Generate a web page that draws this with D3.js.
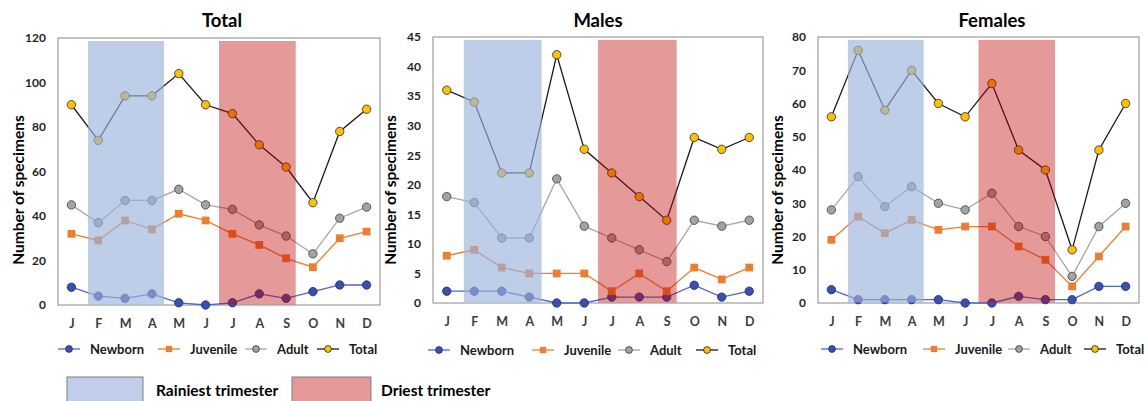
<!DOCTYPE html>
<html>
<head>
<meta charset="utf-8">
<script src="https://cdn.jsdelivr.net/npm/d3@7/dist/d3.min.js"></script>
<style>
  html, body { margin: 0; padding: 0; background: #fff; }
  svg { display: block; font-family: Lato, "Open Sans", sans-serif; }
</style>
</head>
<body>
<svg id="chart" width="1148" height="401"></svg>
<script>
// ---------- DATA ----------
const months = ["J","F","M","A","M","J","J","A","S","O","N","D"];
const seriesNames = ["Newborn","Juvenile","Adult","Total"];

const totalNewborn  = [8, 4, 3, 5, 1, 0, 1, 5, 3, 6, 9, 9];
const totalJuvenile = [32, 29, 38, 34, 41, 38, 32, 27, 21, 17, 30, 33];
const totalAdult    = [45, 37, 47, 47, 52, 45, 43, 36, 31, 23, 39, 44];
const totalTotal    = [90, 74, 94, 94, 104, 90, 86, 72, 62, 46, 78, 88];

const malesNewborn  = [2, 2, 2, 1, 0, 0, 1, 1, 1, 3, 1, 2];
const malesJuvenile = [8, 9, 6, 5, 5, 5, 2, 5, 2, 6, 4, 6];
const malesAdult    = [18, 17, 11, 11, 21, 13, 11, 9, 7, 14, 13, 14];
const malesTotal    = [36, 34, 22, 22, 42, 26, 22, 18, 14, 28, 26, 28];

const femalesNewborn  = [4, 1, 1, 1, 1, 0, 0, 2, 1, 1, 5, 5];
const femalesJuvenile = [19, 26, 21, 25, 22, 23, 23, 17, 13, 5, 14, 23];
const femalesAdult    = [28, 38, 29, 35, 30, 28, 33, 23, 20, 8, 23, 30];
const femalesTotal    = [56, 76, 58, 70, 60, 56, 66, 46, 40, 16, 46, 60];

const panelTitles = ["Total", "Males", "Females"];
const yMaxes = [120, 45, 80];
const yTickSteps = [20, 5, 10];
// trimester bands in month-index units (fractional)
const rainyBand = [0.62, 3.45];
const dryBand = [5.5, 8.36];
const bandLabels = ["Rainiest trimester", "Driest trimester"];

// ---------- STYLE / LAYOUT ----------
const styles = {
  Newborn:  { line: "#4f66cc", fill: "#3b4fb2", stroke: "#1e2a66", shape: "circle" },
  Juvenile: { line: "#ed7d31", fill: "#ed7d31", stroke: "none", shape: "square" },
  Adult:    { line: "#a6a6a6", fill: "#a3a3a3", stroke: "#3a3a3a", shape: "circle" },
  Total:    { line: "#1a1a1a", fill: "#ffc000", stroke: "#2a2a2a", shape: "circle" }
};

const layouts = [
  { x0: 58,  x1: 380,  yTop: 38, yBot: 305, titleX: 222, ylabX: 18,
    legY: 349, legLine: [58, 158, 245, 317] },
  { x0: 433, x1: 763,  yTop: 37, yBot: 303, titleX: 598, ylabX: 390,
    legY: 350, legLine: [428, 532, 618, 696] },
  { x0: 818, x1: 1139, yTop: 37, yBot: 303, titleX: 992, ylabX: 777,
    legY: 349, legLine: [821, 923, 1008, 1084] }
];

const panelData = [
  [totalNewborn, totalJuvenile, totalAdult, totalTotal],
  [malesNewborn, malesJuvenile, malesAdult, malesTotal],
  [femalesNewborn, femalesJuvenile, femalesAdult, femalesTotal]
];

const svg = d3.select("#chart");

function drawMarker(g, shape, cx, cy, st, r) {
  if (shape === "circle") {
    g.append("circle").attr("cx", cx).attr("cy", cy).attr("r", r)
      .attr("fill", st.fill).attr("stroke", st.stroke).attr("stroke-width", 0.8);
  } else {
    const s = r * 1.85;
    g.append("rect").attr("x", cx - s / 2).attr("y", cy - s / 2)
      .attr("width", s).attr("height", s).attr("fill", st.fill);
  }
}

panelData.forEach((series, p) => {
  const L = layouts[p];
  const g = svg.append("g");

  const x = d3.scalePoint().domain(d3.range(12)).range([L.x0, L.x1]).padding(0.5);
  const xf = v => x(0) + v * x.step();
  const y = d3.scaleLinear().domain([0, yMaxes[p]]).range([L.yBot, L.yTop]);

  // frame
  g.append("rect").attr("x", L.x0).attr("y", L.yTop)
    .attr("width", L.x1 - L.x0).attr("height", L.yBot - L.yTop)
    .attr("fill", "none").attr("stroke", "#8a8a8a").attr("stroke-width", 1);

  // y axis
  const yAxis = d3.axisLeft(y).tickValues(d3.range(0, yMaxes[p] + 0.001, yTickSteps[p]))
    .tickSize(0).tickPadding(12);
  const ya = g.append("g").attr("transform", `translate(${L.x0},0)`).call(yAxis);
  ya.select(".domain").remove();
  ya.selectAll("text").attr("font-size", 12).attr("font-weight", 700)
    .attr("fill", "#1f1f1f").attr("font-family", "Lato, sans-serif");

  // x axis
  const xAxis = d3.axisBottom(x).tickFormat(i => months[i]).tickSize(0).tickPadding(0);
  const xa = g.append("g").attr("transform", `translate(0,${L.yBot})`).call(xAxis);
  xa.select(".domain").remove();
  xa.selectAll("text").attr("font-size", 12.5).attr("font-weight", 700)
    .attr("fill", "#3d3d3d").attr("font-family", "Lato, sans-serif")
    .attr("dy", null).attr("y", 23);

  // lines + markers
  series.forEach((vals, s) => {
    const st = styles[seriesNames[s]];
    const line = d3.line().x((d, i) => x(i)).y(d => y(d));
    g.append("path").datum(vals).attr("d", line).attr("fill", "none")
      .attr("stroke", st.line).attr("stroke-width", 1.3);
  });
  series.forEach((vals, s) => {
    const st = styles[seriesNames[s]];
    vals.forEach((v, i) => drawMarker(g, st.shape, x(i), y(v), st, 4.2));
  });

  // shaded trimester bands (semi-transparent, over the data)
  g.append("rect").attr("x", xf(rainyBand[0])).attr("y", L.yTop + 3)
    .attr("width", xf(rainyBand[1]) - xf(rainyBand[0])).attr("height", L.yBot - L.yTop - 3.5)
    .attr("fill", "rgb(155,178,220)").attr("fill-opacity", 0.65);
  g.append("rect").attr("x", xf(dryBand[0])).attr("y", L.yTop + 3)
    .attr("width", xf(dryBand[1]) - xf(dryBand[0])).attr("height", L.yBot - L.yTop - 3.5)
    .attr("fill", "rgb(190,0,0)").attr("fill-opacity", 0.4);

  // title
  g.append("text").attr("x", L.titleX).attr("y", 27).attr("text-anchor", "middle")
    .attr("font-size", 18.5).attr("font-weight", 700).attr("fill", "#000")
    .text(panelTitles[p]);

  // y label
  g.append("text").attr("transform", `translate(${L.ylabX + 5.5},190) rotate(-90)`)
    .attr("text-anchor", "middle").attr("font-size", 15.5).attr("font-weight", 700)
    .attr("fill", "#000").text("Number of specimens");

  // legend
  seriesNames.forEach((name, s) => {
    const st = styles[name];
    const lx = L.legLine[s];
    const lw = 22;
    g.append("line").attr("x1", lx).attr("x2", lx + lw).attr("y1", L.legY).attr("y2", L.legY)
      .attr("stroke", st.line).attr("stroke-width", 1.3);
    drawMarker(g, st.shape, lx + lw / 2, L.legY, st, 3.4);
    g.append("text").attr("x", lx + lw + 10).attr("y", L.legY).attr("dy", "0.35em")
      .attr("font-size", 13).attr("font-weight", 700).attr("fill", "#1a1a1a").text(name);
  });
});

// bottom legend for bands
const bandLegend = [
  { x: 67, w: 76, fill: "rgb(192,206,233)", tx: 156 },
  { x: 292, w: 79, fill: "rgb(229,152,152)", tx: 381 }
];
bandLegend.forEach((b, i) => {
  svg.append("rect").attr("x", b.x).attr("y", 377).attr("width", b.w).attr("height", 30)
    .attr("fill", b.fill).attr("stroke", "#7f7f7f").attr("stroke-width", 1);
  svg.append("text").attr("x", b.tx).attr("y", 396).attr("font-size", 15.5)
    .attr("font-weight", 700).attr("fill", "#000").text(bandLabels[i]);
});
</script>
</body>
</html>
